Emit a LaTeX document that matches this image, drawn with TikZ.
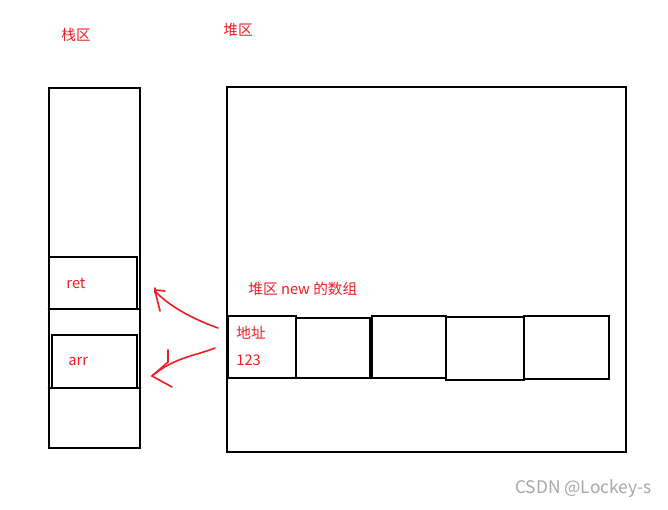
\documentclass[tikz,border=0pt]{standalone}
\usepackage{fontspec}
\setmainfont{Noto Sans CJK SC}
\begin{document}
\begin{tikzpicture}[%
        x = 0.75pt,
        y = -0.75pt,
        line width = 2.2pt,
        line cap = round
    ]

        % Colours for the labels and hand drawn arrows.
        \definecolor{inkred}{RGB}{237, 28, 36}
        \tikzset{%
            lbl/.style = {inkred, font = \fontsize{11}{13}\selectfont, anchor = west, inner sep = 0pt},
            hand/.style = {inkred, line width = 1.2pt}
        }

        \useasboundingbox (0, 0) rectangle (668, 510);

        % Stack column.
        \draw (49, 88) rectangle (140, 448);
        \draw (49, 257) rectangle (137, 309);
        \draw (49, 309) -- (140, 309);
        \draw (52, 335) rectangle (137, 388);
        \draw (49, 388) -- (140, 388);

        % Heap.
        \draw (227, 87) rectangle (626, 452);
        \draw (228, 316) rectangle (296, 378);
        \draw (296, 318) rectangle (370, 378);
        \draw (372, 316) rectangle (446, 378);
        \draw (446, 317) rectangle (524, 380);
        \draw (524, 316) rectangle (609, 379);

        % Labels.
        \node[lbl] (stack) at (60, 35) {栈区};
        \node[lbl] (heap) at (222, 30) {堆区};
        \node[lbl] (arrlbl) at (247, 289) {堆区 new 的数组};
        \node[lbl] (addr) at (235, 333) {地址};
        \node[lbl] (num) at (235, 360) {123};
        \node[lbl] (ret) at (65, 283) {ret};
        \node[lbl] (arr) at (67, 362) {arr};
        \node[gray!70, font = \fontsize{13}{15}\selectfont, anchor = east, inner sep = 0pt] (mark) at (653, 489) {CSDN @Lockey-s};

        % Hand drawn arrows.
        \coordinate (a1) at (218, 328);
        \coordinate (t1) at (155, 291);
        \coordinate (a2) at (215, 348);
        \coordinate (t2) at (152, 376);
        \draw[hand] (a1) .. controls (190, 318) and (168, 305) .. (t1);
        \draw[hand] (t1) -- (160, 311) (155, 288) -- (155, 293) (155, 290) -- (165, 291);
        \draw[hand] (a2) .. controls (195, 356) and (175, 357) .. (t2);
        \draw[hand] (168, 350) -- (168, 362) -- (t2) -- (172, 387);
\end{tikzpicture}
\end{document}
